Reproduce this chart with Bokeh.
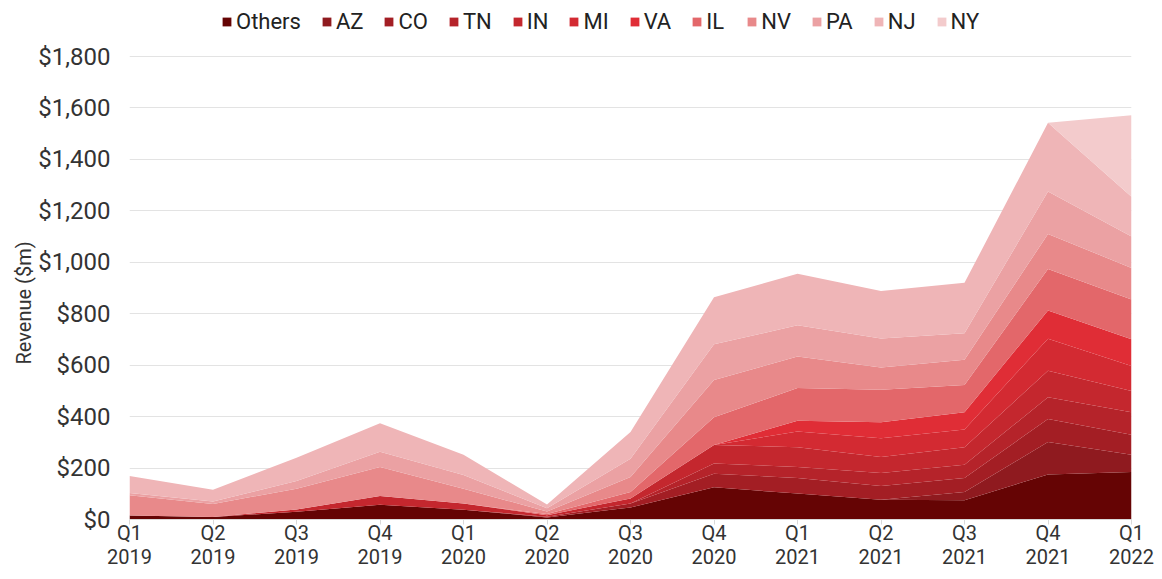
from bokeh.plotting import figure
from bokeh.models import (ColumnDataSource, Legend, LegendItem, FixedTicker,
                          NumeralTickFormatter, Range1d, Title)
from bokeh.embed import file_html
from bokeh.resources import INLINE

quarters = ["Q1\n2019", "Q2\n2019", "Q3\n2019", "Q4\n2019", "Q1\n2020", "Q2\n2020",
            "Q3\n2020", "Q4\n2020", "Q1\n2021", "Q2\n2021", "Q3\n2021", "Q4\n2021",
            "Q1\n2022"]

series_names = ["Others", "AZ", "CO", "TN", "IN", "MI", "VA", "IL", "NV", "PA", "NJ", "NY"]

others = [16, 10, 30, 57, 38, 8, 47, 125, 101, 77, 75, 175, 185]
az = [0, 0, 0, 0, 0, 0, 0, 0, 0, 0, 32, 126, 67]
co = [0, 0, 0, 0, 0, 3, 15, 53, 60, 53, 54, 90, 77]
tn = [0, 0, 0, 0, 0, 0, 0, 40, 43, 51, 52, 84, 88]
ind = [0, 0, 9, 34, 24, 6, 20, 72, 77, 62, 68, 103, 83]
mi = [0, 0, 0, 0, 0, 0, 0, 0, 61, 73, 69, 125, 97]
va = [0, 0, 0, 0, 0, 0, 0, 0, 42, 62, 67, 110, 104]
il = [0, 0, 0, 0, 0, 4, 25, 108, 127, 126, 106, 161, 154]
nv = [78, 50, 81, 113, 58, 10, 58, 144, 123, 87, 98, 136, 123]
pa = [9, 10, 30, 59, 53, 13, 71, 139, 121, 113, 103, 165, 122]
nj = [66, 46, 90, 111, 79, 14, 104, 183, 200, 184, 196, 267, 155]
ny = [0, 0, 0, 0, 0, 0, 0, 0, 0, 0, 0, 0, 317]

y_ticks = list(range(0, 1801, 200))

colors = ["#650404", "#8f1a1f", "#a31e24", "#b5232a", "#c4272e", "#d32a32",
          "#e02d36", "#e3676a", "#e8898a", "#eba1a3", "#efb5b7", "#f3cbcc"]

data = {"x": list(range(len(quarters)))}
for name, vals in zip(series_names,
                      [others, az, co, tn, ind, mi, va, il, nv, pa, nj, ny]):
    data[name] = vals
source = ColumnDataSource(data)

# frame spans the full height so the legend can sit at the top inside it;
# the value range top is chosen so that $1,800 lands ~56px below the top
FRAME_H = 519
TOP_PAD = 56
y_end = y_ticks[-1] * FRAME_H / (FRAME_H - TOP_PAD)

p = figure(width=1154, height=571, output_backend="svg", toolbar_location=None,
           x_range=Range1d(0, len(quarters) - 1), y_range=Range1d(0, y_end),
           min_border_left=129, min_border_right=23, min_border_bottom=40,
           min_border_top=0)
p.outline_line_color = None
p.background_fill_color = "white"

renderers = p.varea_stack(stackers=series_names, x="x", color=colors, source=source)

items = [LegendItem(label=n, renderers=[r]) for n, r in zip(series_names, renderers)]
legend = Legend(items=items, orientation="horizontal", location=(92, FRAME_H - 34),
                label_text_font="Roboto", label_text_font_size="22px",
                label_text_color="#222222", glyph_width=11, glyph_height=11,
                label_standoff=4, spacing=20, padding=4, margin=0,
                border_line_color=None, background_fill_alpha=0)
p.add_layout(legend, "center")

font = "Roboto"
# y axis
p.yaxis.ticker = FixedTicker(ticks=y_ticks)
p.yaxis.formatter = NumeralTickFormatter(format="$0,0")
p.yaxis.axis_line_color = None
p.yaxis.major_tick_line_color = None
p.yaxis.minor_tick_line_color = None
p.yaxis.major_label_text_font = font
p.yaxis.major_label_text_font_size = "24px"
p.yaxis.major_label_text_color = "#333333"
p.yaxis.major_label_standoff = 13

ytitle = Title(text="Revenue ($m)", align="left", offset=155,
               text_font=font, text_font_size="20px", text_font_style="normal",
               text_color="#333333", standoff=0)
p.add_layout(ytitle, "left")

# x axis
p.xaxis.ticker = FixedTicker(ticks=list(range(len(quarters))))
p.xaxis.major_label_overrides = {i: q for i, q in enumerate(quarters)}
p.xaxis.axis_line_color = "#d9d9d9"
p.xaxis.major_tick_line_color = "#d9d9d9"
p.xaxis.major_tick_in = 0
p.xaxis.major_tick_out = 5
p.xaxis.minor_tick_line_color = None
p.xaxis.major_label_text_font = font
p.xaxis.major_label_text_font_size = "20px"
p.xaxis.major_label_text_color = "#333333"
p.xaxis.major_label_standoff = -4
p.xaxis.major_label_text_line_height = 1.0

p.xgrid.grid_line_color = None
p.ygrid.grid_line_color = "#e3e3e3"
p.ygrid.grid_line_width = 1

open("out.html", "w").write(file_html(p, INLINE))
